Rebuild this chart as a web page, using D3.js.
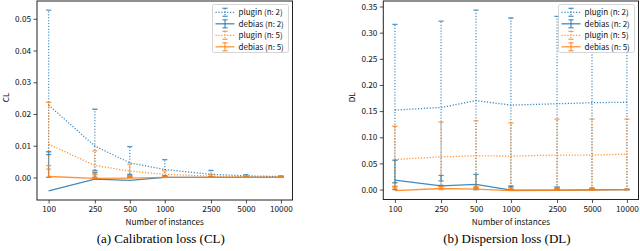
<!DOCTYPE html>
<html>
<head>
<meta charset="utf-8">
<script src="https://cdn.jsdelivr.net/npm/d3@7"></script>
<style>
  body { margin: 0; background: #fff; }
</style>
</head>
<body>
<script>
const instances = [100, 250, 500, 1000, 2500, 5000, 10000];
const seriesNames = ["plugin (n: 2)", "debias (n: 2)", "plugin (n: 5)", "debias (n: 5)"];

// (a) calibration loss: mean line, lower cap, upper cap
const clPlugin2 = [0.0228, 0.0099, 0.0046, 0.0025, 0.0010, 0.0005, 0.0003];
const clPlugin2Lo = [0.0072, 0.0022, 0.0010, 0.0005, 0.0003, 0.0002, 0.0001];
const clPlugin2Hi = [0.0527, 0.0215, 0.0097, 0.0056, 0.0022, 0.0009, 0.0005];
const clDebias2 = [-0.0042, -0.0005, -0.0009, 0.0000, 0.0000, 0.0000, 0.0000];
const clDebias2Lo = [0.0000, 0.0000, 0.0000, 0.0000, 0.0000, 0.0000, 0.0000];
const clDebias2Hi = [0.0081, 0.0016, 0.0005, 0.0004, 0.0002, 0.0001, 0.0001];
const clPlugin5 = [0.0105, 0.0038, 0.0020, 0.0010, 0.0004, 0.0002, 0.0001];
const clPlugin5Lo = [0.0037, 0.0012, 0.0005, 0.0003, 0.0001, 0.0001, 0.0000];
const clPlugin5Hi = [0.0237, 0.0084, 0.0042, 0.0021, 0.0010, 0.0005, 0.0003];
const clDebias5 = [0.0003, -0.0003, -0.0002, 0.0000, 0.0000, 0.0000, 0.0000];
const clDebias5Lo = [0.0000, 0.0000, 0.0000, 0.0000, 0.0000, 0.0000, 0.0000];
const clDebias5Hi = [0.0026, 0.0008, 0.0003, 0.0002, 0.0001, 0.0000, 0.0000];

// (b) dispersion loss
const dlPlugin2 = [0.152, 0.157, 0.170, 0.1615, 0.164, 0.166, 0.167];
const dlPlugin2Lo = [0.013, 0.008, 0.003, 0.005, 0.003, 0.001, 0.000];
const dlPlugin2Hi = [0.316, 0.322, 0.343, 0.328, 0.331, 0.333, 0.334];
const dlDebias2 = [0.018, 0.007, 0.010, -0.001, -0.001, -0.0005, 0.000];
const dlDebias2Lo = [0.000, 0.0165, 0.000, 0.000, 0.000, 0.000, 0.000];
const dlDebias2Hi = [0.056, 0.027, 0.029, 0.007, 0.005, 0.0025, 0.001];
const dlPlugin5 = [0.0575, 0.0625, 0.0645, 0.064, 0.066, 0.066, 0.0675];
const dlPlugin5Lo = [0.006, 0.005, 0.003, 0.001, 0.002, 0.002, 0.000];
const dlPlugin5Hi = [0.121, 0.1295, 0.1315, 0.1275, 0.1347, 0.1345, 0.1347];
const dlDebias5 = [-0.002, 0.002, 0.001, -0.002, -0.0015, -0.001, 0.000];
const dlDebias5Lo = [0.003, 0.000, 0.000, 0.000, 0.000, 0.000, 0.000];
const dlDebias5Hi = [0.006, 0.006, 0.006, 0.003, 0.003, 0.002, 0.001];

const clTicks = [0, 0.01, 0.02, 0.03, 0.04, 0.05];
const dlTicks = [0, 0.05, 0.1, 0.15, 0.2, 0.25, 0.3, 0.35];

const BLUE = "#1f77b4";
const ORANGE = "#ff7f0e";
const styles = [
  { color: BLUE, dotted: true },
  { color: BLUE, dotted: false },
  { color: ORANGE, dotted: true },
  { color: ORANGE, dotted: false },
];

const panels = [
  {
    id: "cl",
    box: { left: 37, top: 1, right: 292.5, bottom: 200 },
    yDomain: [-0.0071, 0.0556],
    yTicks: clTicks,
    yLabel: "CL",
    caption: "(a) Calibration loss (CL)",
    series: [
      [clPlugin2, clPlugin2Lo, clPlugin2Hi],
      [clDebias2, clDebias2Lo, clDebias2Hi],
      [clPlugin5, clPlugin5Lo, clPlugin5Hi],
      [clDebias5, clDebias5Lo, clDebias5Hi],
    ],
  },
  {
    id: "dl",
    box: { left: 383.3, top: 1, right: 638.5, bottom: 199.5 },
    yDomain: [-0.019, 0.3605],
    yTicks: dlTicks,
    yLabel: "DL",
    caption: "(b) Dispersion loss (DL)",
    series: [
      [dlPlugin2, dlPlugin2Lo, dlPlugin2Hi],
      [dlDebias2, dlDebias2Lo, dlDebias2Hi],
      [dlPlugin5, dlPlugin5Lo, dlPlugin5Hi],
      [dlDebias5, dlDebias5Lo, dlDebias5Hi],
    ],
  },
];

const width = 640;
const height = 251;
const sansFont = "'Noto Sans CJK JP', 'Noto Sans', sans-serif";

const svg = d3.select("body")
  .append("svg")
  .attr("width", width)
  .attr("height", height)
  .style("display", "block");

const dash = (s) => (s.dotted ? "1.2,1.7" : null);

function drawErrorSeries(g, x, y, vals, style) {
  const [mean, lo, hi] = vals;
  const pts = instances.map((n, i) => ({ n, m: mean[i], lo: lo[i], hi: hi[i] }));
  const capW = 2.6;

  // error bars
  const eb = g.append("g")
    .attr("stroke", style.color)
    .attr("stroke-opacity", 0.75)
    .attr("fill", "none");

  eb.selectAll("line.bar")
    .data(pts)
    .join("line")
    .attr("class", "bar")
    .attr("x1", (d) => x(d.n))
    .attr("x2", (d) => x(d.n))
    .attr("y1", (d) => y(d.lo))
    .attr("y2", (d) => y(d.hi))
    .attr("stroke-width", 1.3)
    .attr("stroke-dasharray", dash(style));

  const caps = pts.flatMap((d) => [{ n: d.n, v: d.lo }, { n: d.n, v: d.hi }]);
  eb.selectAll("line.cap")
    .data(caps)
    .join("line")
    .attr("class", "cap")
    .attr("x1", (d) => x(d.n) - capW)
    .attr("x2", (d) => x(d.n) + capW)
    .attr("y1", (d) => y(d.v))
    .attr("y2", (d) => y(d.v))
    .attr("stroke-width", 1.3);

  // mean line
  const line = d3.line().x((d) => x(d.n)).y((d) => y(d.m));
  g.append("path")
    .datum(pts)
    .attr("d", line)
    .attr("fill", "none")
    .attr("stroke", style.color)
    .attr("stroke-opacity", 0.85)
    .attr("stroke-width", 1.3)
    .attr("stroke-dasharray", dash(style));
}

panels.forEach((p) => {
  const b = p.box;
  const x = d3.scaleLog()
    .domain([Math.pow(10, 1.9), Math.pow(10, 4.1)])
    .range([b.left, b.right]);
  const y = d3.scaleLinear()
    .domain(p.yDomain)
    .range([b.bottom, b.top]);

  const g = svg.append("g");

  svg.append("clipPath")
    .attr("id", "clip-" + p.id)
    .append("rect")
    .attr("x", b.left)
    .attr("y", b.top)
    .attr("width", b.right - b.left)
    .attr("height", b.bottom - b.top);

  const plot = g.append("g").attr("clip-path", `url(#clip-${p.id})`);
  p.series.forEach((vals, i) => drawErrorSeries(plot, x, y, vals, styles[i]));

  // axes
  const xAxis = d3.axisBottom(x)
    .tickValues(instances)
    .tickFormat(d3.format("d"))
    .tickSize(3.5)
    .tickPadding(3);
  const yAxis = d3.axisLeft(y)
    .tickValues(p.yTicks)
    .tickFormat(d3.format(".2f"))
    .tickSize(3.5)
    .tickPadding(2.5);

  const gx = g.append("g")
    .attr("transform", `translate(0,${b.bottom})`)
    .call(xAxis);
  const gy = g.append("g")
    .attr("transform", `translate(${b.left},0)`)
    .call(yAxis);

  [gx, gy].forEach((ax) => {
    ax.select(".domain").remove();
    ax.selectAll(".tick line").attr("stroke", "#222").attr("stroke-width", 0.8);
    ax.selectAll(".tick text")
      .attr("fill", "#111")
      .style("font-family", sansFont)
      .style("font-size", "8.2px");
  });

  // frame
  g.append("rect")
    .attr("x", b.left)
    .attr("y", b.top)
    .attr("width", b.right - b.left)
    .attr("height", b.bottom - b.top)
    .attr("fill", "none")
    .attr("stroke", "#222")
    .attr("stroke-width", 1);

  const cx = (b.left + b.right) / 2;

  g.append("text")
    .attr("x", cx)
    .attr("y", 225)
    .attr("text-anchor", "middle")
    .style("font-family", sansFont)
    .style("font-size", "8.2px")
    .attr("fill", "#111")
    .text("Number of instances");

  g.append("text")
    .attr("transform", `translate(${b.left - 28},${(b.top + b.bottom) / 2 - 3}) rotate(-90)`)
    .attr("text-anchor", "middle")
    .style("font-family", sansFont)
    .style("font-size", "8.2px")
    .attr("fill", "#111")
    .text(p.yLabel);

  g.append("text")
    .attr("x", cx - 4)
    .attr("y", 243)
    .attr("text-anchor", "middle")
    .style("font-family", "'Liberation Serif', 'Times New Roman', serif")
    .style("font-size", "13px")
    .attr("fill", "#000")
    .text(p.caption);

  // legend
  const lw = 76;
  const lx = b.right - 4 - lw;
  const ly = b.top + 3.5;
  const legend = g.append("g");
  legend.append("rect")
    .attr("x", lx)
    .attr("y", ly)
    .attr("width", lw)
    .attr("height", 48)
    .attr("rx", 2)
    .attr("fill", "#fff")
    .attr("fill-opacity", 0.8)
    .attr("stroke", "#ccc")
    .attr("stroke-width", 0.8);

  seriesNames.forEach((name, i) => {
    const s = styles[i];
    const yy = ly + 7.8 + i * 11.5;
    const hx0 = lx + 3;
    const hx1 = lx + 22;
    const hm = (hx0 + hx1) / 2;
    const item = legend.append("g")
      .attr("stroke", s.color)
      .attr("fill", "none")
      .attr("stroke-width", 1.3);
    item.append("line")
      .attr("x1", hx0).attr("x2", hx1)
      .attr("y1", yy).attr("y2", yy)
      .attr("stroke-opacity", 0.85)
      .attr("stroke-dasharray", dash(s));
    item.append("line")
      .attr("x1", hm).attr("x2", hm)
      .attr("y1", yy - 4).attr("y2", yy + 4)
      .attr("stroke-opacity", 0.75)
      .attr("stroke-dasharray", dash(s));
    [yy - 4, yy + 4].forEach((cy) => {
      item.append("line")
        .attr("x1", hm - 2.6).attr("x2", hm + 2.6)
        .attr("y1", cy).attr("y2", cy)
        .attr("stroke-opacity", 0.75);
    });
    legend.append("text")
      .attr("x", lx + 26)
      .attr("y", yy + 2.8)
      .style("font-family", sansFont)
      .style("font-size", "8px")
      .attr("fill", "#111")
      .text(name);
  });
});
</script>
</body>
</html>
